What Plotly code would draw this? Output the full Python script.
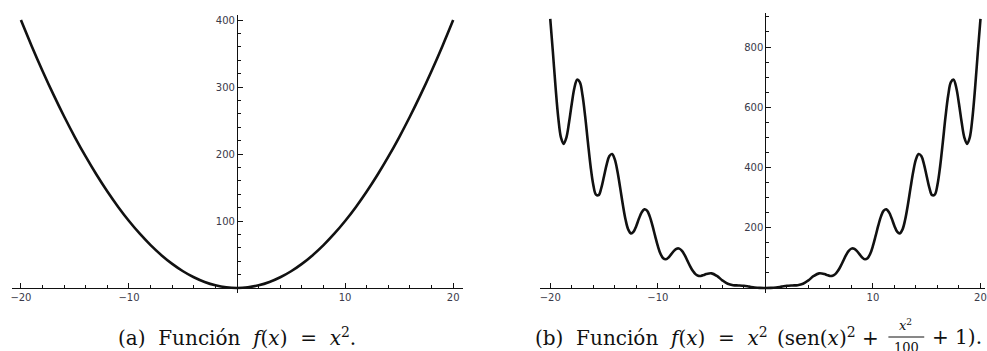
import plotly.graph_objects as go

W, H = 987, 351

# ---- data ----
x_a = [-20, -19, -18, -17, -16, -15, -14, -13, -12, -11, -10, -9, -8, -7, -6, -5, -4, -3, -2, -1, 0,
       1, 2, 3, 4, 5, 6, 7, 8, 9, 10, 11, 12, 13, 14, 15, 16, 17, 18, 19, 20]
y_a = [400, 361, 324, 289, 256, 225, 196, 169, 144, 121, 100, 81, 64, 49, 36, 25, 16, 9, 4, 1, 0,
       1, 4, 9, 16, 25, 36, 49, 64, 81, 100, 121, 144, 169, 196, 225, 256, 289, 324, 361, 400]

x_b = [-20, -19.75, -19.5, -19.25, -19, -18.75, -18.5, -18.25, -18, -17.75, -17.5, -17.25, -17,
       -16.75, -16.5, -16.25, -16, -15.75, -15.5, -15.25, -15, -14.75, -14.5, -14.25, -14,
       -13.75, -13.5, -13.25, -13, -12.75, -12.5, -12.25, -12, -11.75, -11.5, -11.25, -11,
       -10.75, -10.5, -10.25, -10, -9.75, -9.5, -9.25, -9, -8.75, -8.5, -8.25, -8,
       -7.75, -7.5, -7.25, -7, -6.75, -6.5, -6.25, -6, -5.75, -5.5,
       -5, -4.5, -4, -3.5, -3, -2.5, -2, -1.5, -1, -0.5, 0,
       0.5, 1, 1.5, 2, 2.5, 3, 3.5, 4, 4.5, 5,
       5.5, 5.75, 6, 6.25, 6.5, 6.75, 7, 7.25, 7.5, 7.75,
       8, 8.25, 8.5, 8.75, 9, 9.25, 9.5, 9.75, 10, 10.25, 10.5, 10.75,
       11, 11.25, 11.5, 11.75, 12, 12.25, 12.5, 12.75, 13, 13.25, 13.5, 13.75,
       14, 14.25, 14.5, 14.75, 15, 15.25, 15.5, 15.75, 16, 16.25, 16.5, 16.75,
       17, 17.25, 17.5, 17.75, 18, 18.25, 18.5, 18.75, 19, 19.25, 19.5, 19.75, 20]
y_b = [893.4, 781.7, 664.3, 564.2, 499.4, 478.6, 499.5, 550.1, 611.7, 664.6, 691.6, 683.4, 639.6,
       568.6, 484.3, 404.1, 342.8, 310.0, 308.2, 332.1, 370.8, 410.5, 438.2, 444.8, 426.8,
       387.0, 333.2, 276.4, 227.4, 194.4, 181.4, 187.1, 206.2, 230.4, 251.1, 261.1, 256.6,
       237.7, 207.7, 172.8, 139.6, 113.8, 98.9, 95.5, 101.3, 112.3, 123.5, 130.6, 130.7,
       123.1, 108.9, 91.0, 72.6, 56.9, 46.0, 40.6, 40.1, 42.7, 46.2,
       48.6, 40.0, 25.4, 13.9, 9.26, 8.53, 7.32, 4.49, 1.71, 0.31, 0,
       0.31, 1.71, 4.49, 7.32, 8.53, 9.26, 13.9, 25.4, 40.0, 48.6,
       46.2, 42.7, 40.1, 40.6, 46.0, 56.9, 72.6, 91.0, 108.9, 123.1,
       130.7, 130.6, 123.5, 112.3, 101.3, 95.5, 98.9, 113.8, 139.6, 172.8, 207.7, 237.7,
       256.6, 261.1, 251.1, 230.4, 206.2, 187.1, 181.4, 194.4, 227.4, 276.4, 333.2, 387.0,
       426.8, 444.8, 438.2, 410.5, 370.8, 332.1, 308.2, 310.0, 342.8, 404.1, 484.3, 568.6,
       639.6, 683.4, 691.6, 664.6, 611.7, 550.1, 499.5, 478.6, 499.4, 564.2, 664.3, 781.7, 893.4]

xticks = [-20, -10, 10, 20]
yticks_a = [100, 200, 300, 400]
yticks_b = [200, 400, 600, 800]

caption_a = "(a)&nbsp; Función&nbsp; <i>f</i>(<i>x</i>)&nbsp; = &nbsp;<i>x</i><sup>2</sup>."
caption_b1 = "(b)&nbsp; Función&nbsp; <i>f</i>(<i>x</i>)&nbsp; = &nbsp;<i>x</i><sup>2</sup>"
caption_b1b = "(sen(<i>x</i>)<sup>2</sup> +"
caption_b_num = "<i>x</i><sup>2</sup>"
caption_b_den = "100"
caption_b2 = "+ 1)."

# ---- geometry (pixels) ----
xa_dom = [10 / W, 463 / W]
xa_rng = [-20.83, 20.92]
ya_dom = [(H - 293) / H, (H - 15) / H]
ya_rng = [-7.46, 407.5]

xb_dom = [540 / W, 1.0]
xb_rng = [-20.97, 20.42]
yb_dom = [(H - 293) / H, (H - 13) / H]
yb_rng = [-16.6, 912.9]


def pos(val, rng, dom):
    return dom[0] + (val - rng[0]) / (rng[1] - rng[0]) * (dom[1] - dom[0])


line = dict(color="#111111", width=2.6, shape="spline", smoothing=1.0)

fig = go.Figure()
fig.add_trace(go.Scatter(x=x_a, y=y_a, mode="lines", line=line, xaxis="x", yaxis="y",
                         hoverinfo="skip", showlegend=False))
fig.add_trace(go.Scatter(x=x_b, y=y_b, mode="lines", line=line, xaxis="x2", yaxis="y2",
                         hoverinfo="skip", showlegend=False))

tickfont = dict(family="DejaVu Sans", size=10, color="#3a3a4a")
common = dict(showgrid=False, zeroline=False, showline=True, linecolor="#111", linewidth=1.2,
              ticks="inside", ticklen=5, tickwidth=1, tickcolor="#111", tickfont=tickfont,
              fixedrange=True, ticklabeloverflow="allow")

fig.update_layout(
    width=W, height=H,
    margin=dict(l=0, r=0, t=0, b=0),
    paper_bgcolor="white", plot_bgcolor="white",
    xaxis=dict(domain=xa_dom, range=xa_rng, anchor="free",
               position=pos(0, ya_rng, ya_dom), tickvals=xticks,
               minor=dict(ticks="inside", dtick=2, ticklen=3, tickcolor="#111"), **common),
    yaxis=dict(domain=ya_dom, range=ya_rng, anchor="free",
               position=pos(0, xa_rng, xa_dom), tickvals=yticks_a,
               minor=dict(ticks="inside", dtick=20, ticklen=3, tickcolor="#111"), **common),
    xaxis2=dict(domain=xb_dom, range=xb_rng, anchor="free",
                position=pos(0, yb_rng, yb_dom), tickvals=xticks,
                minor=dict(ticks="inside", dtick=2, ticklen=3, tickcolor="#111"), **common),
    yaxis2=dict(domain=yb_dom, range=yb_rng, anchor="free",
                position=pos(0, xb_rng, xb_dom), tickvals=yticks_b,
                minor=dict(ticks="inside", dtick=50, ticklen=3, tickcolor="#111"), **common),
)

capfont = dict(family="DejaVu Serif", size=20, color="#111")
ycap = (H - 337) / H
fig.add_annotation(text=caption_a, x=236 / W, y=ycap, xref="paper", yref="paper",
                   xanchor="center", yanchor="middle", showarrow=False, font=capfont)
fig.add_annotation(text=caption_b1, x=533 / W, y=ycap, xref="paper", yref="paper",
                   xanchor="left", yanchor="middle", showarrow=False, font=capfont)
fig.add_annotation(text=caption_b1b, x=883 / W, y=ycap, xref="paper", yref="paper",
                   xanchor="right", yanchor="middle", showarrow=False, font=capfont)
fig.add_annotation(text=caption_b_num, x=907 / W, y=(H - 325) / H, xref="paper", yref="paper",
                   xanchor="center", yanchor="middle", showarrow=False,
                   font=dict(family="DejaVu Serif", size=13, color="#111"))
fig.add_annotation(text=caption_b_den, x=908 / W, y=(H - 347) / H, xref="paper", yref="paper",
                   xanchor="center", yanchor="middle", showarrow=False,
                   font=dict(family="DejaVu Serif", size=13, color="#111"))
fig.add_shape(type="line", xref="paper", yref="paper", x0=890 / W, x1=926 / W,
              y0=(H - 337) / H, y1=(H - 337) / H, line=dict(color="#111", width=1))
fig.add_annotation(text=caption_b2, x=932 / W, y=ycap, xref="paper", yref="paper",
                   xanchor="left", yanchor="middle", showarrow=False, font=capfont)

fig.write_html("out.html")
